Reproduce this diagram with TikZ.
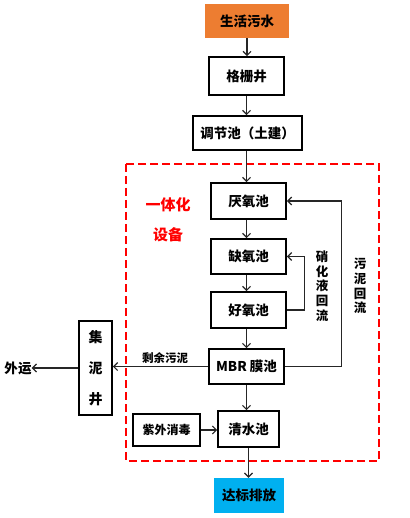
\documentclass[tikz,border=0pt]{standalone}
\usepackage{fontspec}
\setmainfont{Noto Sans CJK SC}
\usetikzlibrary{arrows.meta}
\definecolor{srcorange}{HTML}{ED7D31}
\definecolor{outcyan}{HTML}{00B0F0}
\begin{document}
\begin{tikzpicture}[x=1pt,y=-1pt,
  box/.style={draw=black,line width=1.6pt,inner sep=0pt,font=\fontsize{13.5}{16}\selectfont\bfseries},
  fbox/.style={inner sep=0pt,font=\fontsize{13.5}{16}\selectfont\bfseries},
  arr/.style={draw=black!85,line width=1.2pt,-{Straight Barb[length=4pt,width=8pt,line width=1.2pt]}},
  lbl/.style={font=\fontsize{11.5}{14}\selectfont\bfseries,inner sep=0pt},
  vlbl/.style={font=\fontsize{12.5}{14.7}\selectfont\bfseries,align=center,inner sep=0pt},
  redlbl/.style={text=red,font=\fontsize{15}{18}\selectfont\bfseries,inner sep=0pt}]
\useasboundingbox (0,0) rectangle (409,518);
\fill[white] (0,0) rectangle (409,518);
% dashed region
\draw[red,line width=1.8pt,dash pattern=on 8pt off 4pt] (126,164) rectangle (379,461);
% nodes
\node[fbox,fill=srcorange,minimum width=84pt,minimum height=34pt] (src) at (247,21) {生活污水};
\node[box,minimum width=75pt,minimum height=38pt] (ggj) at (246.5,76) {格栅井};
\node[box,minimum width=109pt,minimum height=34pt] (tjc) at (247.5,133) {调节池（土建）};
\node[box,minimum width=75pt,minimum height=36pt] (yyc) at (248.5,201) {厌氧池};
\node[box,minimum width=75pt,minimum height=35pt] (qyc) at (248.5,256.5) {缺氧池};
\node[box,minimum width=75pt,minimum height=36pt] (hyc) at (248.5,310) {好氧池};
\node[box,minimum width=75pt,minimum height=35pt] (mbr) at (246.5,366.5) {MBR 膜池};
\node[box,minimum width=61pt,minimum height=36pt] (qsc) at (248.5,429) {清水池};
\node[box,minimum width=67pt,minimum height=32pt,font=\fontsize{12}{14}\selectfont\bfseries] (zwxd) at (166.5,430) {紫外消毒};
\node[fbox,fill=outcyan,minimum width=70pt,minimum height=35pt] (dbpf) at (249,495.5) {达标排放};
\node[box,minimum width=33pt,minimum height=94pt,align=center,font=\fontsize{14}{31}\selectfont\bfseries] (jnj) at (95.5,368) {集\\泥\\井};
\node[lbl,font=\fontsize{13.5}{16}\selectfont\bfseries] (wy) at (18,368) {外运};
% labels
\node[redlbl] (yth) at (168,205) {一体化};
\node[redlbl] (sb) at (168,235) {设备};
\node[lbl] (sywn) at (165,358) {剩余污泥};
\node[vlbl] (xhy) at (322,286) {硝\\化\\液\\回\\流};
\node[vlbl] (wnhl) at (360,286) {污\\泥\\回\\流};
% connectors
\draw[arr] (src.south) -- (src.south |- ggj.north);
\draw[arr] (ggj.south) -- (ggj.south |- tjc.north);
\draw[arr] (tjc.south -| ggj.south) -- (ggj.south |- yyc.north);
\draw[arr] (yyc.south -| ggj.south) -- (ggj.south |- qyc.north);
\draw[arr] (qyc.south -| ggj.south) -- (ggj.south |- hyc.north);
\draw[arr] (hyc.south -| ggj.south) -- (ggj.south |- mbr.north);
\draw[arr] (mbr.south) -- (mbr.south |- qsc.north);
\draw[arr] (qsc.south) -- (qsc.south |- dbpf.north);
\draw[arr] (zwxd.east) -- (zwxd.east -| qsc.west);
\draw[arr] (mbr.west) -- (mbr.west -| jnj.east);
\draw[arr] (jnj.west) -- (wy.east);
\draw[arr] (hyc.east) -- ++(18,0) |- (qyc.east);
\draw[arr] (mbr.east) -- ++(57,0) |- (yyc.east);
\end{tikzpicture}
\end{document}
